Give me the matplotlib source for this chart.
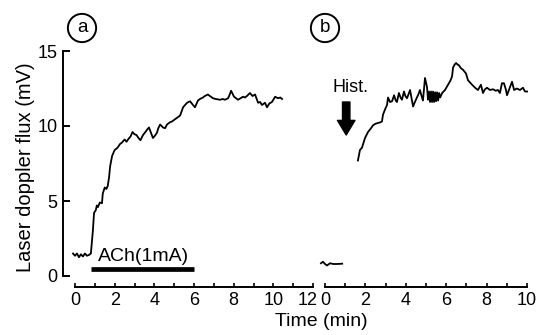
import matplotlib
matplotlib.use("Agg")
import matplotlib.pyplot as plt
from matplotlib.ticker import MultipleLocator
from matplotlib.transforms import ScaledTranslation

plt.rcParams['font.family'] = ['Liberation Sans', 'DejaVu Sans']

# panel a: ACh iontophoresis trace (min, mV)
time_a = [-0.1, 0.0, 0.1, 0.2, 0.3,
          0.4, 0.5, 0.6, 0.7, 0.8,
          0.9, 0.96, 1.05, 1.1, 1.16,
          1.25, 1.36, 1.4, 1.5, 1.58,
          1.65, 1.72, 1.77, 1.87, 2.0,
          2.1, 2.17, 2.27, 2.37, 2.5,
          2.6, 2.7, 2.8, 2.9, 3.0,
          3.1, 3.2, 3.3, 3.43, 3.55,
          3.63, 3.73, 3.83, 3.93, 4.03,
          4.13, 4.2, 4.29, 4.44, 4.54,
          4.64, 4.79, 4.89, 5.04, 5.15,
          5.3, 5.45, 5.55, 5.65, 5.8,
          5.95, 6.05, 6.2, 6.3, 6.45,
          6.55, 6.7, 6.8, 6.96, 7.1,
          7.31, 7.45, 7.56, 7.72, 7.8,
          7.87, 8.02, 8.12, 8.22, 8.35,
          8.47, 8.57, 8.67, 8.82, 8.95,
          9.08, 9.23, 9.33, 9.43, 9.58,
          9.68, 9.8, 9.93, 10.09, 10.24,
          10.35, 10.44]
flux_a = [1.5, 1.35, 1.5, 1.25, 1.45,
          1.3, 1.5, 1.35, 1.4, 1.5,
          3.0, 4.2, 4.4, 4.7, 4.6,
          4.9, 4.85, 5.5, 5.9, 5.8,
          6.0, 6.6, 7.3, 8.0, 8.4,
          8.5, 8.6, 8.8, 8.9, 9.1,
          8.95, 9.15, 9.3, 9.6, 9.45,
          9.4, 9.2, 9.05, 9.4, 9.6,
          9.75, 9.9, 9.55, 9.2, 9.35,
          9.55, 9.85, 10.1, 9.9, 9.85,
          10.1, 10.25, 10.3, 10.45, 10.55,
          10.7, 11.25, 11.4, 11.55, 11.65,
          11.4, 11.25, 11.7, 11.8, 11.9,
          12.0, 12.1, 12.0, 11.85, 11.8,
          11.75, 11.8, 11.75, 11.85, 12.1,
          12.35, 11.95, 11.85, 11.75, 11.85,
          11.95, 11.9, 12.0, 12.2, 12.0,
          12.1, 11.55, 11.6, 11.4, 11.55,
          11.25, 11.5, 11.6, 11.95, 11.85,
          11.9, 11.8]

ach_on, ach_off = 0.8, 6.0

# panel b: baseline before histamine, then response
time_b0 = [-0.2, -0.1, 0.0, 0.1, 0.25, 0.4, 0.6, 0.85]
flux_b0 = [0.85, 0.95, 0.8, 0.7, 0.85, 0.8, 0.8, 0.82]

time_b = [1.63, 1.73, 1.83, 1.98, 2.13, 2.25, 2.38, 2.5, 2.62, 2.75,
          2.82, 2.87, 2.97, 3.07, 3.12, 3.22, 3.32, 3.42, 3.5, 3.56,
          3.66, 3.74, 3.81, 3.91, 3.98, 4.06, 4.13, 4.21, 4.36, 4.45,
          4.55, 4.62, 4.7, 4.78, 4.85, 4.95, 5.05, 5.1, 5.15, 5.2,
          5.25, 5.3, 5.35, 5.4, 5.45, 5.5, 5.55, 5.6, 5.65, 5.7,
          5.8, 5.94, 6.09, 6.2, 6.29, 6.34, 6.42, 6.49, 6.56, 6.63,
          6.73, 6.83, 6.98, 7.08, 7.18, 7.28, 7.43, 7.57, 7.72, 7.82,
          7.92, 8.02, 8.17, 8.32, 8.45, 8.56, 8.66, 8.76, 8.86, 8.96,
          9.01, 9.16, 9.26, 9.36, 9.5, 9.65, 9.8, 9.9, 10.05]
flux_b = [7.7, 8.4, 8.55, 9.2, 9.6, 9.8, 10.05, 10.15, 10.2, 10.25,
          10.3, 10.75, 11.1, 11.4, 11.9, 11.6, 11.65, 12.05, 11.7, 11.6,
          12.2, 11.9, 11.75, 12.3, 12.0, 11.85, 12.1, 12.4, 11.3, 11.6,
          11.9, 12.1, 12.4, 12.0, 11.7, 13.2, 12.6, 11.75, 12.3, 11.6,
          12.3, 11.6, 12.3, 11.6, 12.25, 11.65, 12.25, 11.7, 12.2, 11.9,
          12.2, 12.4, 12.75, 13.0, 13.3, 13.9, 14.1, 14.2, 14.1, 14.05,
          13.85, 13.75, 13.5, 13.05, 12.9, 12.75, 12.55, 12.4, 12.75, 12.2,
          12.45, 12.55, 12.4, 12.45, 12.35, 12.4, 12.2, 12.85, 12.85, 12.4,
          12.05, 12.6, 12.95, 12.4, 12.5, 12.4, 12.55, 12.3, 12.3]

hist_time = 1.05

W, H = 536, 335
fig = plt.figure(figsize=(W / 100, H / 100), dpi=100)
bottom, height = (H - 287) / H, (287 - 51) / H
ax_a = fig.add_axes([63 / W, bottom, 250 / W, height])
ax_b = fig.add_axes([318 / W, bottom, 210 / W, height])

ax_a.plot(time_a, flux_a, color='black', lw=1.3)
ax_a.plot([ach_on, ach_off], [0.47, 0.47], color='black', lw=3.4, solid_capstyle='butt')
ax_a.text(3.43, 1.3, 'ACh(1mA)', fontsize=14, ha='center', va='center')

ax_b.plot(time_b0, flux_b0, color='black', lw=1.3)
ax_b.plot(time_b, flux_b, color='black', lw=1.3)
ax_b.text(1.24, 12.57, 'Hist.', fontsize=13, ha='center', va='center')
ax_b.annotate('', xy=(hist_time, 9.4), xytext=(hist_time, 11.6),
              arrowprops=dict(arrowstyle='simple,head_width=0.9,head_length=0.75,tail_width=0.38',
                              fc='black', ec='black', mutation_scale=14, shrinkA=0, shrinkB=0))

for ax in (ax_a, ax_b):
    ax.set_ylim(-11 / 15, 15)
    for s in ('top', 'right'):
        ax.spines[s].set_visible(False)
    ax.spines['bottom'].set_linewidth(1.4)
    ax.xaxis.set_major_locator(MultipleLocator(2))
    ax.xaxis.set_minor_locator(MultipleLocator(1))
    ax.tick_params(axis='x', which='both', direction='in', length=3, width=1.2,
                   labelsize=13, pad=3.5)

ax_a.set_xlim(-12 / 19.83, 12)
ax_a.spines['bottom'].set_bounds(0, 12)
ax_a.spines['left'].set_bounds(0, 15)
ax_a.spines['left'].set_linewidth(1.4)
ax_a.set_yticks([0, 5, 10, 15])
ax_a.tick_params(axis='y', direction='in', length=5, width=1.4, labelsize=13, pad=4)

ax_b.set_xlim(-7 / 20.2, 10 + 1 / 20.2)
ax_b.spines['bottom'].set_bounds(0, 10)
ax_b.spines['left'].set_visible(False)
ax_b.set_yticks([])

# nudge the "12" label so it clears panel b's "0"
fig.canvas.draw()
for lab in ax_a.get_xticklabels():
    if lab.get_text() == '12':
        lab.set_transform(lab.get_transform() + ScaledTranslation(-5 / 100, 0, fig.dpi_scale_trans))

fig.text(26 / W, 1 - 167 / H, 'Laser doppler flux (mV)', rotation=90, fontsize=14.5,
         ha='center', va='center')
fig.text(321 / W, 13 / H, 'Time (min)', fontsize=14, ha='center', va='center')

circ = dict(boxstyle='circle,pad=0.3', fc='white', ec='black', lw=1.4)
fig.text(82 / W, 1 - 28 / H, 'a', fontsize=13.5, ha='center', va='center', bbox=circ)
fig.text(325 / W, 1 - 28 / H, 'b', fontsize=13.5, ha='center', va='center', bbox=circ)

fig.savefig('out.png', dpi=100)
